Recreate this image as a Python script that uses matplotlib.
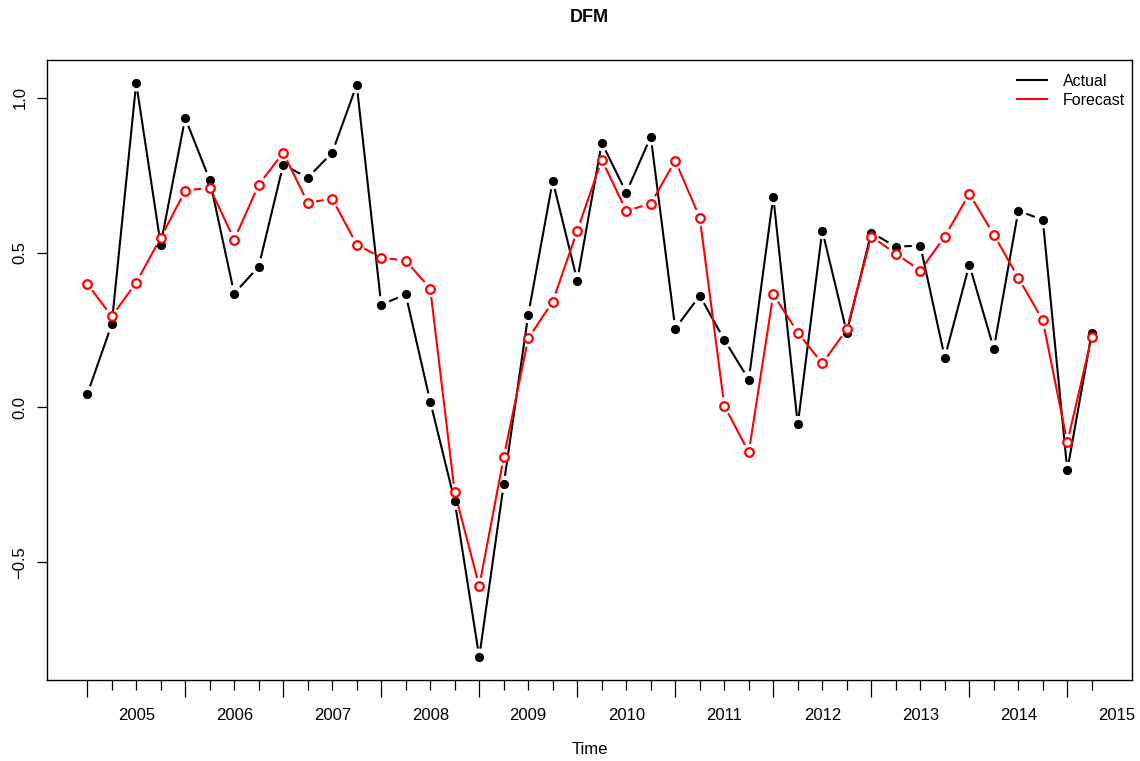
import numpy as np
import matplotlib
matplotlib.use("Agg")
import matplotlib.pyplot as plt
from matplotlib.collections import LineCollection
from matplotlib.lines import Line2D

plt.rcParams['font.family'] = ['Liberation Sans', 'DejaVu Sans']

# ---- data ----
start_year = 2004.5
quarter = 0.25
actual = [0.042, 0.268, 1.048, 0.526, 0.935, 0.735, 0.368, 0.455, 0.784, 0.742,
          0.823, 1.042, 0.332, 0.365, 0.019, -0.303, -0.806, -0.248, 0.300, 0.732,
          0.410, 0.855, 0.694, 0.874, 0.255, 0.361, 0.219, 0.090, 0.681, -0.055,
          0.571, 0.242, 0.565, 0.519, 0.523, 0.161, 0.461, 0.190, 0.635, 0.606,
          -0.203, 0.242]
forecast = [0.400, 0.294, 0.403, 0.548, 0.700, 0.710, 0.542, 0.719, 0.823, 0.661,
            0.674, 0.526, 0.484, 0.474, 0.384, -0.274, -0.577, -0.161, 0.223, 0.342,
            0.571, 0.800, 0.635, 0.658, 0.797, 0.613, 0.006, -0.145, 0.365, 0.242,
            0.142, 0.252, 0.552, 0.497, 0.442, 0.552, 0.690, 0.558, 0.419, 0.281,
            -0.113, 0.229]
year_labels = ["2005", "2006", "2007", "2008", "2009", "2010",
               "2011", "2012", "2013", "2014", "2015"]
y_ticks = [-0.5, 0.0, 0.5, 1.0]
y_tick_labels = ["\u22120.5", "0.0", "0.5", "1.0"]
series_names = ["Actual", "Forecast"]
series_colors = ["black", "red"]
title = "DFM"
xlabel = "Time"

t = start_year + quarter * np.arange(len(actual))

W, H = 1140, 761
fig = plt.figure(figsize=(W / 100, H / 100), dpi=100)
ax = fig.add_axes([47 / W, (H - 680) / H, (1132 - 47) / W, (680 - 60) / H])

# R-like 4% extension
def ext(lo, hi):
    d = (hi - lo) * 0.04
    return lo - d, hi + d

ax.set_xlim(*ext(t.min(), t.max()))
allv = np.array(actual + forecast)
ax.set_ylim(*ext(allv.min(), allv.max()))

lw = 1.5

def gapped(x, y, gap_px, color):
    P = ax.transData.transform(np.column_stack([x, y]))
    inv = ax.transData.inverted()
    segs = []
    for p0, p1 in zip(P[:-1], P[1:]):
        d = p1 - p0
        L = np.hypot(*d)
        if L > 2 * gap_px:
            u = d / L
            a = inv.transform(p0 + u * gap_px)
            b = inv.transform(p1 - u * gap_px)
            segs.append([a, b])
    lc = LineCollection(segs, colors=color, linewidths=lw, capstyle='butt')
    ax.add_collection(lc)

gapped(t, actual, 8.5, series_colors[0])
ax.plot(t, actual, linestyle='none', marker='o', ms=5.6, color=series_colors[0],
        mec=series_colors[0], zorder=3)
gapped(t, forecast, 8.5, series_colors[1])
ax.plot(t, forecast, linestyle='none', marker='o', ms=6.2, mfc='white',
        mec=series_colors[1], mew=1.6, zorder=4)

# x axis ticks: long at half-years, short at other quarters
long_ticks = t[::4]
short_ticks = np.array([v for i, v in enumerate(t) if i % 4 != 0])
ax.set_xticks(long_ticks)
ax.set_xticklabels([])
ax.set_xticks(short_ticks, minor=True)
ax.tick_params(axis='x', which='major', length=12, width=0.9, direction='out', color='black')
ax.tick_params(axis='x', which='minor', length=7.2, width=0.9, direction='out', color='black')

sec = ax.secondary_xaxis('bottom')
sec.set_xticks(np.arange(2005, 2005 + len(year_labels)))
sec.set_xticklabels(year_labels)
sec.tick_params(axis='x', length=0, pad=20, labelsize=12)
sec.spines['bottom'].set_visible(False)

ax.set_yticks(y_ticks)
ax.set_yticklabels(y_tick_labels, rotation=90, va='center')
ax.tick_params(axis='y', length=7.2, width=0.9, pad=7, labelsize=12)

for s in ax.spines.values():
    s.set_linewidth(1.0)
    s.set_color('black')

fig.text((47 + 1132) / 2 / W, 1 - 18 / H, title, ha='center', va='center',
         fontsize=13, fontweight='bold')
fig.text((47 + 1132) / 2 / W, 1 - 750 / H, xlabel, ha='center', va='center',
         fontsize=12)

handles = [Line2D([], [], color=c, lw=lw) for c in series_colors]
ax.legend(handles, series_names, loc='upper right', frameon=False, fontsize=11.5,
          handlelength=1.9, handletextpad=0.95, labelspacing=0.25,
          borderaxespad=0.05, bbox_to_anchor=(1.0, 0.989))

fig.savefig("out.png", dpi=100)
